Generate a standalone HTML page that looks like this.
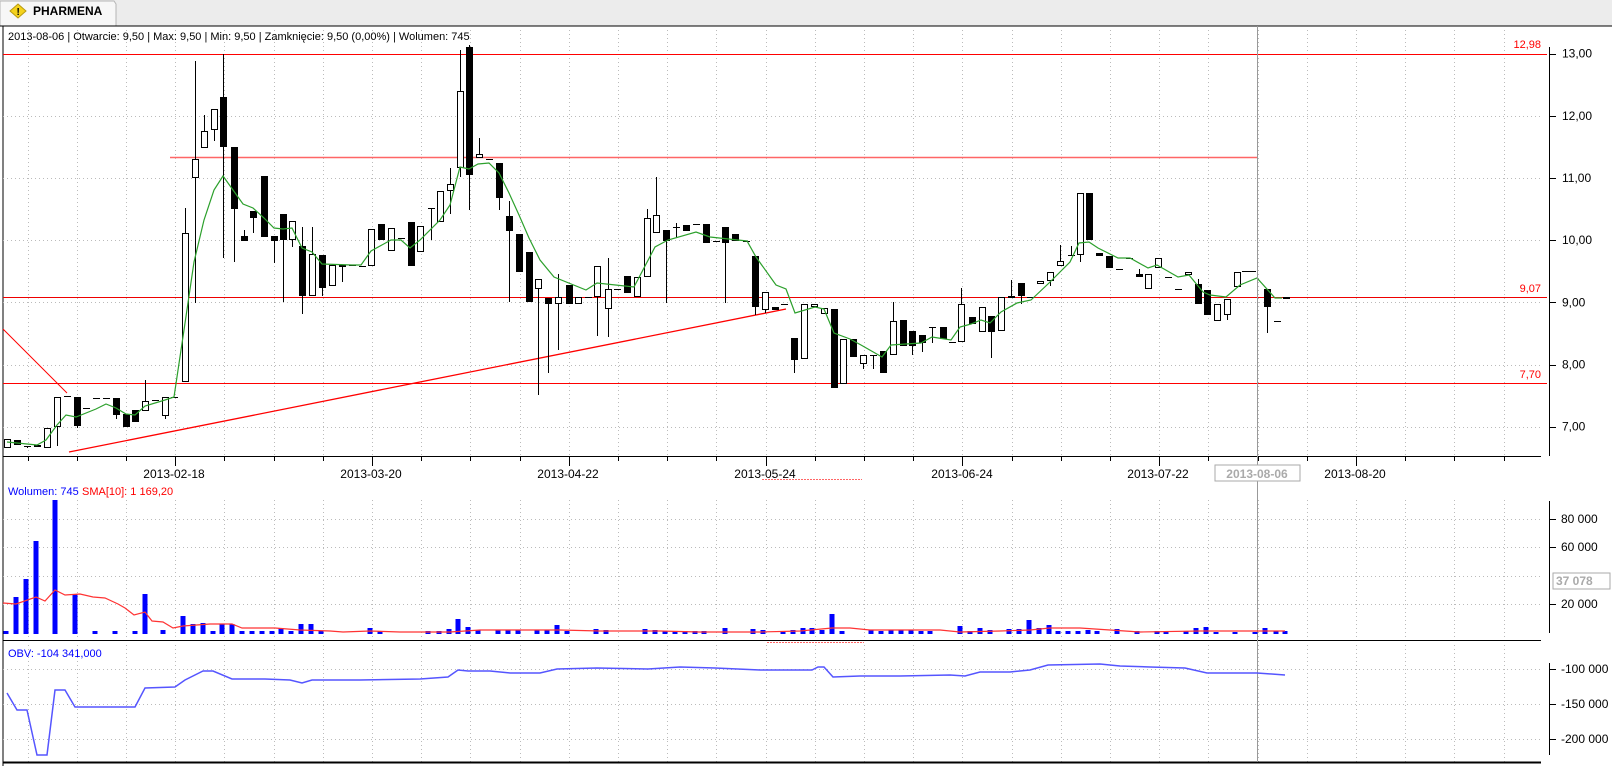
<!DOCTYPE html>
<html><head><meta charset="utf-8"><style>
html,body{margin:0;padding:0;background:#fff;}
body{width:1612px;height:766px;overflow:hidden;font-family:"Liberation Sans",sans-serif;}
svg{display:block}
</style></head><body>
<svg id="s" width="1612" height="766" xmlns="http://www.w3.org/2000/svg" font-family="Liberation Sans, sans-serif" font-size="11">
<rect x="0" y="0" width="1612" height="26" fill="#ececec"/>
<path d="M0 1 H114 L116 4 V26 H0 Z" fill="#f7f7f7" stroke="#b5b5b5"/>
<polygon points="18,4 26,11 18,18 10,11" fill="#f4d21c" stroke="#b89b10"/>
<text x="16.5" y="15" font-size="10" font-weight="bold">!</text>
<text x="33" y="15" font-size="12" font-weight="bold">PHARMENA</text>
<rect x="1" y="26" width="1610" height="739" fill="#fff"/>
<line x1="0" y1="26" x2="1612" y2="26" stroke="#000"/>
<line x1="3" y1="26" x2="3" y2="766" stroke="#000"/>
<g id="g"></g>
</svg>
<script>
var NS="http://www.w3.org/2000/svg",G=document.getElementById('g');
function el(t,a,txt){var e=document.createElementNS(NS,t);for(var k in a)e.setAttribute(k,a[k]);if(txt!=null)e.textContent=txt;G.appendChild(e);return e;}
function line(x1,y1,x2,y2,c,w,d){var a={x1:x1,y1:y1,x2:x2,y2:y2,stroke:c,'stroke-width':w||1};if(d)a['stroke-dasharray']=d;el('line',a);}
function poly(pts,c,w){el('polyline',{points:pts.map(function(p){return p.join(',')}).join(' '),fill:'none',stroke:c,'stroke-width':w||1});}
var gx=[];for(var k=0;k<=30;k++)gx.push(27.5+49.2*k);
gx.forEach(function(x){x=Math.round(x)+.5;line(x,30,x,456,'#bbb',1,'1,3');line(x,500,x,640,'#bbb',1,'1,3');line(x,645,x,762,'#bbb',1,'1,3');});
var py=[53.7,115.9,178,240.2,302.4,364.5,426.7],pl=['13,00','12,00','11,00','10,00','9,00','8,00','7,00'];
py.forEach(function(y,i){var yy=Math.round(y)+.5;line(3,yy,1541,yy,'#bbb',1,'1,3');line(1549,yy,1556,yy,'#000');el('text',{x:1562,y:y+4,'font-size':'12'},pl[i]);});
[[519,'80 000'],[547,'60 000'],[604,'20 000']].forEach(function(a){line(3,a[0]+.5,1541,a[0]+.5,'#bbb',1,'1,3');line(1549,a[0]+.5,1556,a[0]+.5,'#000');el('text',{x:1561,y:a[0]+4,'font-size':'12'},a[1]);});
line(3,576.5,1541,576.5,'#bbb',1,'1,3');
[[669,'-100 000'],[704,'-150 000'],[739,'-200 000']].forEach(function(a){line(3,a[0]+.5,1541,a[0]+.5,'#bbb',1,'1,3');line(1549,a[0]+.5,1556,a[0]+.5,'#000');el('text',{x:1561,y:a[0]+4,'font-size':'12'},a[1]);});
line(1549.5,47,1549.5,456,'#000');line(1549.5,501,1549.5,633,'#000');line(1549.5,663,1549.5,755,'#000');
el('rect',{x:1553,y:573,width:57,height:16,fill:'#fff',stroke:'#aaa'});el('text',{x:1556,y:585,'font-size':'12','font-weight':'bold',fill:'#aaa'},'37 078');
line(3,456.5,1541,456.5,'#000');line(3,640.5,1541,640.5,'#000');line(3,762.5,1541,762.5,'#000',2);
gx.forEach(function(x,k){x=Math.round(x)+.5;line(x,456,x,[3,7,11,15,19,23,27].indexOf(k)>=0?466:461,'#000');});
[[174,'2013-02-18'],[371,'2013-03-20'],[568,'2013-04-22'],[765,'2013-05-24'],[962,'2013-06-24'],[1158,'2013-07-22'],[1355,'2013-08-20']].forEach(function(a){el('text',{x:a[0],y:478,'text-anchor':'middle','font-size':'12'},a[1]);});
line(762,479.5,862,479.5,'#f66',1,'2,1');line(767,642.5,864,642.5,'#f66',1,'2,1');
el('text',{x:8,y:40,'font-size':'11'},'2013-08-06 | Otwarcie: 9,50 | Max: 9,50 | Min: 9,50 | Zamknięcie: 9,50 (0,00%)  | Wolumen: 745');
line(3,54.5,1547,54.5,'#f00');el('text',{x:1541,y:48,'text-anchor':'end',fill:'#f00','font-size':'11'},'12,98');
line(170,157.5,1257,157.5,'#f66',1.5);
line(3,297.5,1547,297.5,'#e00');el('text',{x:1541,y:292,'text-anchor':'end',fill:'#f00','font-size':'11'},'9,07');
line(3,383.5,1547,383.5,'#f00');el('text',{x:1541,y:378,'text-anchor':'end',fill:'#f00','font-size':'11'},'7,70');
line(3,329,67,393,'#f00');line(69,452,786,309,'#f00',1.3);
var C=[[7,428,437,428,437,0],[17,429,434,429,434,1],[27,435,435,435,437,2],[37,434,436,434,436,1],[46.5,417,437,417,437,0],[57,387,416,387,435,0],[66.5,386,386,386,386,2],[76.5,387,415,387,417,1],[86,398,398,398,398,2],[96,388,388,388,388,2],[106,388,388,388,388,2],[116,388,405,388,409,1],[126,404,416,404,416,1],[135,400,411,400,411,1],[145,391,401,371,401,0],[155,390,390,390,390,2],[165,387,406,387,409,0],[174,387,387,387,387,2],
[184.6,227,372,203,372,0],[194.6,155,174,59,295,0],[204,128,144,112,144,0],[214,106,127,106,137,0],[223,95,143,53,252,1],[233.5,143,204,143,255,1],[243.5,230,235,224,235,1],[253,206,213,206,227,1],[263.5,172,231,172,231,1],[274,230,235,230,256,1],[283,209,234,209,294,1],[292,215,234,215,241,0],[302,240,289,221,306,1],[312,248,289,221,289,0],[322,249,281,249,289,1],[332,258,279,258,279,0],[342,258,260,258,275,1],[352,258,258,258,258,2],[361.6,259,259,259,259,2],[371,223,259,223,259,0],[381,218,234,218,234,1],[391,222,245,222,245,0],[401,232,232,232,232,2],[410.5,216,259,216,259,1],[420,220,246,220,246,0],[430.5,203,203,203,234,2],[440,186,216,186,216,0],[450,179,186,164,209,0],[460,89,164,49,173,0],[469,46,171,44,205,1],[478.7,150,154,135,154,0],[489,155,155,155,155,2],[499,159,193,159,205,1],[509,211,225,196,294,1],[519,228,265,228,265,1],[529,246,294,246,294,1],[538,272,282,272,385,0],
[548,291,296,291,364,1],[558,290,296,267,341,0],[568.5,278,296,278,296,1],[577.6,290,296,290,296,0],[588,290,290,290,290,2],[597,259,290,259,328,0],[607.5,282,301,252,329,0],[617,282,282,282,282,2],[627,269,286,269,286,1],[637,270,290,270,290,0],[646.5,213,270,204,270,0],[656,210,227,173,227,0],[666,224,235,224,295,1],[676,221,221,217,232,2],[686,219,225,219,225,1],[696,218,218,218,218,2],[706,218,237,218,237,1],[716,235,235,235,235,2],[725,221,237,221,295,1],[735,228,235,228,235,1],[745.6,235,235,235,235,2],[755,250,299,250,307,1],[765,285,302,285,305,0],[775,299,302,299,302,1],[784,296,296,296,296,2],[794,330,351,330,364,1],[804,296,350,296,350,0],[814,296,299,296,299,0],[824,300,306,300,306,0],[834,301,378,301,378,1],[843,331,374,331,374,0],[853,331,348,331,348,1],[863,346,355,346,360,0],[873,346,346,346,360,2],[883,342,364,342,364,1],[892.5,313,346,294,346,0],[902.6,312,337,312,337,1],[912,323,337,323,346,1],[922,327,334,327,343,1],[932,319,319,319,334,2],[942.5,319,331,319,331,1],[952,333,333,333,333,2],[961,296,333,281,333,0],[971.5,309,316,309,316,1],[981.5,299,324,299,324,0],[991,308,324,308,349,1],[1001,290,323,290,323,0],[1011,289,291,273,291,1],[1020.6,276,289,276,296,1],[1030,290,290,290,290,2],[1040,274,277,274,277,0],[1050,265,274,265,279,0],[1060,254,259,239,259,0],[1071,249,249,240,249,2],[1080,188,249,188,255,0],[1089,188,234,188,234,1],[1099,247,250,247,250,1],[1109,250,261,250,261,1],[1119,262,262,262,262,2],[1129,252,252,252,252,2],[1139,267,270,262,270,1],[1148,267,282,267,282,0],[1158,252,261,252,261,0],[1168,270,270,270,270,2],[1178,282,282,282,282,2],[1188,265,268,265,268,0],[1198,277,296,272,296,1],[1207,283,307,283,307,1],[1217,296,313,296,313,0],[1227,292,307,292,312,0],[1237,265,280,265,280,0],[1245,264,264,264,264,2],[1252,264,264,264,264,2],[1267,282,299,282,325,1],[1277,313,313,313,313,2],[1286,290,292,290,292,0]];
var S=1.0256;
C.forEach(function(c){var x=Math.round(c[0]);for(var i=1;i<5;i++)c[i]=Math.round(c[i]*S);
 if(c[5]==2){line(x+.5,c[3],x+.5,c[4],'#000');line(x-3,c[1]+.5,x+4,c[1]+.5,'#000');return;}
 line(x+.5,c[3],x+.5,c[4],'#000');
 var h=Math.max(c[2]-c[1],2);
 if(c[5]==1)el('rect',{x:x-3,y:c[1],width:7,height:h,fill:'#000'});
 else el('rect',{x:x-2.5,y:c[1]+.5,width:6,height:h-1,fill:'#fff',stroke:'#000'});});
poly([[7,442],[17,443],[37,445],[46,440],[57,425],[66,415],[76,417],[96,409],[106,404],[116,408],[126,414],[135,415],[145,406],[165,400],[174,397],[184,330],[194,262],[204,220],[214,190],[223,176],[233,190],[243,204],[253,208],[264,218],[274,228],[283,229],[292,228],[302,248],[312,252],[322,264],[352,265],[361,265],[371,251],[391,240],[401,240],[410,248],[420,240],[440,220],[450,205],[460,167],[469,169],[478,164],[489,163],[499,173],[509,193],[519,215],[529,238],[540,260],[554,277],[586,290],[597,283],[634,287],[655,247],[668,240],[696,232],[710,237],[747,241],[756,257],[776,285],[786,289],[795,313],[815,307],[824,309],[834,333],[850,339],[861,345],[882,357],[891,345],[921,343],[932,337],[951,340],[960,327],[971,324],[981,320],[990,323],[1001,312],[1017,303],[1031,300],[1049,283],[1070,262],[1079,243],[1089,242],[1098,248],[1118,258],[1130,258],[1148,268],[1157,265],[1178,277],[1189,275],[1203,292],[1210,295],[1226,297],[1240,285],[1257,278],[1275,298],[1282,298]],'#2ca02c',1.2);
line(1257.5,26,1257.5,762,'#999');
el('rect',{x:1215,y:465,width:85,height:16,fill:'#fff',stroke:'#aaa'});el('text',{x:1257,y:478,'text-anchor':'middle','font-size':'12','font-weight':'bold',fill:'#aaa'},'2013-08-06');
el('text',{x:8,y:495,fill:'#00f','font-size':'11'},'Wolumen: 745');el('text',{x:82,y:495,fill:'#f00','font-size':'11'},'SMA[10]: 1 169,20');
var V=[[6,631],[16,597],[26,579],[36,541],[55,500],[75,594],[95,631],[115,631],[135,631],[145,594],[163,630],[183,616],[193,624],[203,623],[213,631],[222,624],[232,624],[242,631],[252,631],[262,631],[272,631],[281,628],[291,631],[301,624],[311,624],[321,631],[370,628],[380,631],[428,631],[439,631],[449,629],[458,619],[468,627],[478,630],[498,630],[508,630],[518,630],[537,630],[547,630],[557,625],[567,631],[596,629],[606,630],[645,629],[655,630],[665,631],[675,631],[685,631],[695,631],[704,631],[725,628],[753,629],[763,630],[783,631],[793,630],[803,628],[812,628],[822,630],[832,614],[842,631],[871,630],[881,631],[891,630],[901,630],[911,630],[921,631],[930,631],[960,626],[970,631],[980,628],[990,630],[1009,629],[1019,629],[1029,620],[1039,628],[1049,625],[1058,631],[1068,631],[1078,631],[1088,630],[1097,631],[1117,629],[1137,631],[1157,631],[1166,631],[1186,631],[1196,628],[1206,627],[1216,632],[1235,632],[1255,632],[1265,628],[1276,631],[1285,631]];
V.forEach(function(v){el('rect',{x:v[0]-2.5,y:v[1],width:5,height:634-v[1],fill:'#00f'});});
poly([[3,603],[16,604],[36,597],[45,601],[55,590],[65,595],[80,594],[93,597],[105,598],[118,604],[125,608],[134,615],[145,612],[152,621],[163,622],[173,628],[183,626],[210,624],[232,624],[242,628],[275,628],[300,630],[330,631],[343,632],[370,631],[400,632],[450,632],[480,630],[560,630],[600,631],[660,631],[700,632],[760,632],[800,631],[832,628],[850,628],[870,630],[900,630],[940,630],[960,632],[1000,631],[1030,630],[1050,628],[1080,628],[1110,630],[1140,632],[1200,631],[1250,631],[1285,631]],'#f33',1.2);
el('text',{x:8,y:657,fill:'#00f','font-size':'11'},'OBV: -104 341,000');
poly([[7,693],[17,710],[27,710],[37,755],[47,755],[55,690],[65,690],[75,707],[135,707],[145,688],[175,687],[185,680],[203,671],[213,671],[232,679],[265,679],[290,680],[302,683],[312,680],[360,680],[420,679],[448,677],[458,670],[468,671],[490,671],[510,673],[540,673],[557,669],[597,668],[648,669],[680,667],[715,668],[760,670],[812,670],[818,667],[824,667],[833,677],[860,676],[900,676],[950,675],[965,676],[980,672],[1010,672],[1030,670],[1048,665],[1100,664],[1120,666],[1150,667],[1185,668],[1207,673],[1257,673],[1285,675]],'#55f',1.5);
</script>
</body></html>
